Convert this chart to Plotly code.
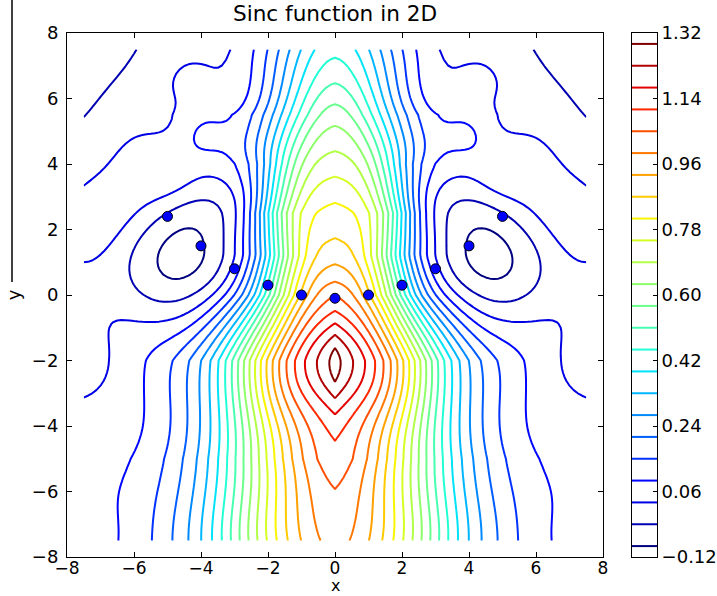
import numpy as np
import plotly.graph_objects as go

# ======================= data =======================
# sample points drawn as blue dots
pts_x = [-5, -4, -3, -2, -1, 0, 1, 2, 3, 4, 5]
pts_y = [2.4, 1.5, 0.8, 0.3, 0.0, -0.1, 0.0, 0.3, 0.8, 1.5, 2.4]

# contour levels and colour-bar labels
level_start, level_end, level_step = -0.09, 1.29, 0.06
cb_range = [-0.12, 1.32]
cb_ticks = [-0.12, 0.06, 0.24, 0.42, 0.60, 0.78, 0.96, 1.14, 1.32]
cb_text = ["\u22120.12", "0.06", "0.24", "0.42", "0.60", "0.78", "0.96", "1.14", "1.32"]
axis_ticks = [-8, -6, -4, -2, 0, 2, 4, 6, 8]

# surface values (left half; the surface is mirror symmetric)
centre_y = [7.5, 7.18, 6.46, 5.82, 5.19, 4.38, 3.6, 2.85, 1.68, 0.97, 0.35, -0.2, -0.46,
            -0.76, -1.32, -1.68, -2.05, -2.54, -3.10, -3.66, -4.48, -5.9, -7.5]
centre_z = [0.43, 0.45, 0.51, 0.57, 0.63, 0.69, 0.75, 0.81, 0.87, 0.93, 0.99, 1.05, 1.11,
            1.17, 1.23, 1.29, 1.315, 1.29, 1.23, 1.17, 1.11, 1.05, 1.01]
top_x = [-0.64, -1.01, -1.35, -1.66, -2.03, -2.43, -3.07, -5.91, -7.5]
top_z = [0.39, 0.33, 0.27, 0.21, 0.15, 0.09, 0.03, -0.03, -0.07]
bottom_x = [-0.45, -1.0, -1.42, -1.76, -2.03, -2.3, -2.57, -2.88, -3.11, -3.38, -3.65,
            -3.99, -4.39, -4.86, -5.47, -6.39, -7.5]
bottom_z = [0.99, 0.93, 0.87, 0.81, 0.75, 0.69, 0.63, 0.57, 0.51, 0.45, 0.39,
            0.33, 0.27, 0.21, 0.15, 0.09, 0.08]
peak_x = [-0.28, -0.55, -0.85, -1.18, -1.48]
peak_y = [-2.1, -2.1, -2.2, -2.3, -2.5]
peak_z = [1.29, 1.23, 1.17, 1.11, 1.05]
line_a = [(-7.5, 5.4), (-6.7, 6.45)]                                     # -0.03
line_b = [(-7.5, 3.31), (-6.7, 4.1), (-5.86, 4.94), (-4.87, 6.36), (-3.77, 7.02)]  # 0.03
band = [(-7.5, 2.2), (-6.2, 3.5)]                                        # ~0.065
line_c = [(-2.73, 5.75), (-3.37, 5.39), (-4.12, 4.94), (-3.97, 4.53), (-3.17, 4.02),
          (-2.73, 3.21), (-2.73, 2.39), (-2.8, 1.2), (-3.3, 0.1), (-3.93, -0.56),
          (-4.83, -1.27), (-5.52, -1.78), (-5.72, -2.6)]                  # 0.09
line_d = [(-7.5, 1.02), (-6.96, 1.17), (-5.66, 2.49), (-4.37, 3.36), (-3.37, 3.51),
          (-2.97, 3.0), (-3.02, 1.78), (-3.02, 0.81), (-3.6, 0.0), (-4.17, -0.46),
          (-5.16, -0.76), (-6.66, -0.71), (-6.96, -1.07), (-7.5, -3.1)]   # 0.03
ring_2 = [(-6.11, 1.07), (-5.86, 1.88), (-5.16, 2.54), (-4.37, 2.85), (-3.67, 2.80),
          (-3.29, 2.19), (-3.27, 1.48), (-3.47, 0.76), (-3.97, 0.15), (-4.77, -0.20),
          (-5.56, -0.15), (-6.01, 0.36)]                                  # -0.03
ring_1 = [(-5.26, 1.17), (-5.07, 1.68), (-4.57, 1.93), (-4.07, 1.93), (-3.97, 1.48),
          (-4.07, 0.97), (-4.47, 0.56), (-4.96, 0.56), (-5.21, 0.81)]     # -0.09
valley = [(-6.6, 0.2), (-7.3, -1.5)]                                     # ~0.0
low_pt = [(-4.6, 1.25)]                                                  # -0.115
line_f = [(-4.93, -2.6)]                                                 # 0.15
line_g = [(-4.43, -2.6)]                                                 # 0.21
dots_val = [(-1.0, 0.0, 0.90), (-2.0, 0.3, 0.45)]

# smooth base surface: ridge rows, peak, floor, side minima, side bumps
ridge_y = [-7.5, -5.0, -2.0, 0.0, 1.2, 2.5, 4.0, 5.5, 7.5]
ridge_c = [0.925, 1.005, 1.0, 0.98, 0.907, 0.83, 0.72, 0.60, 0.42]
ridge_w = [3.5, 3.45, 3.3, 2.27, 2.05, 2.21, 2.12, 2.25, 1.95]
ridge_p = [2.0, 2.1, 2.4, 2.03, 2.5, 3.3, 2.85, 2.0, 2.0]
ridge_cusp = 0.03
peak = [0.30, -2.05, 1.9, 1.5, 1.9]
floor = [0.085, -7.5, 4.0]
lobe = [-0.118, 4.6, 1.25, 1.3, 1.45, 0.3]
bumps_x = [7.3, 5.0, 4.0, 4.3, 8.5]
bumps_y = [2.3, 3.8, 4.9, 6.6, 8.0]
bumps_s = [1.25, 0.9, 0.8, 1.2, 2.8]
bumps_a = [0.07, 0.07, 0.08, 0.04, -0.09]

grid = np.linspace(-7.5, 7.5, 121)


# ======================= surface =======================
def base_surface(x, y):
    ax = np.abs(x)
    c = np.interp(y, ridge_y, ridge_c)
    w = np.interp(y, ridge_y, ridge_w)
    p = np.interp(y, ridge_y, ridge_p)
    z = c * np.exp(-(ax / w) ** p - ridge_cusp * ax)
    z = z + floor[0] * np.exp(-((y - floor[1]) / floor[2]) ** 2)
    sy = np.where(y > peak[1], peak[3], peak[4])
    z = z + peak[0] * np.exp(-ax / peak[2]) * np.exp(-((y - peak[1]) / sy) ** 2)
    u = ax - lobe[1] + lobe[5] * (y - lobe[2])
    z = z + lobe[0] * np.exp(-(u / lobe[3]) ** 2 - ((y - lobe[2]) / lobe[4]) ** 2)
    for bx, by, bs, ba in zip(bumps_x, bumps_y, bumps_s, bumps_a):
        z = z + ba * np.exp(-((ax - bx) ** 2 + (y - by) ** 2) / bs ** 2)
    return z


ox, oy, oz = [], [], []


def add(xs, ys, zs):
    for a, b, c in zip(xs, ys, zs):
        ox.append(a); oy.append(b); oz.append(c)
        if a < -1e-9:
            ox.append(-a); oy.append(b); oz.append(c)


add([0.0] * len(centre_y), centre_y, centre_z)
add(top_x, [7.5] * len(top_x), top_z)
add(bottom_x, [-7.5] * len(bottom_x), bottom_z)
add(peak_x, peak_y, peak_z)
for pts, lev in [(line_a, -0.03), (line_b, 0.03), (band, 0.065), (line_c, 0.09),
                 (line_d, 0.03), (ring_2, -0.03), (ring_1, -0.09), (valley, 0.0),
                 (low_pt, -0.115), (line_f, 0.15), (line_g, 0.21)]:
    add([p[0] for p in pts], [p[1] for p in pts], [lev] * len(pts))
add([d[0] for d in dots_val], [d[1] for d in dots_val], [d[2] for d in dots_val])

ox, oy, oz = np.array(ox), np.array(oy), np.array(oz)
resid = oz - base_surface(ox, oy)
ell, lam = 1.0, 0.1
K = np.exp(-((ox[:, None] - ox[None, :]) ** 2 + (oy[:, None] - oy[None, :]) ** 2) / (2 * ell ** 2))
alpha = np.linalg.solve(K + lam * np.eye(len(ox)), resid)

GX, GY = np.meshgrid(grid, grid)
Z = base_surface(GX, GY)
flat = np.exp(-((GX.ravel()[:, None] - ox[None, :]) ** 2 + (GY.ravel()[:, None] - oy[None, :]) ** 2)
              / (2 * ell ** 2)) @ alpha
Z = Z + flat.reshape(GX.shape)


# matplotlib "jet"
def jet(t):
    r = np.interp(t, [0, 0.35, 0.66, 0.89, 1], [0, 0, 1, 1, 0.5])
    g = np.interp(t, [0, 0.125, 0.375, 0.64, 0.91, 1], [0, 0, 1, 1, 0, 0])
    b = np.interp(t, [0, 0.11, 0.34, 0.65, 1], [0.5, 1, 1, 0, 0])
    return "rgb(%d,%d,%d)" % (round(r * 255), round(g * 255), round(b * 255))


knots = [0, 0.11, 0.125, 0.34, 0.35, 0.375, 0.64, 0.65, 0.66, 0.89, 0.91, 1]
jet_scale = [[k, jet(k)] for k in knots]

fig = go.Figure()
fig.add_trace(go.Contour(
    x=grid, y=grid, z=Z,
    contours=dict(start=level_start, end=level_end, size=level_step, coloring="lines"),
    line=dict(width=2, smoothing=0),
    colorscale=jet_scale, showscale=False, hoverinfo="skip",
    xaxis="x", yaxis="y",
))
fig.add_trace(go.Scatter(
    x=pts_x, y=pts_y, mode="markers",
    marker=dict(size=10, color="rgb(0,0,255)", line=dict(color="black", width=1)),
    hoverinfo="skip", xaxis="x", yaxis="y",
))

# colour bar drawn on its own axis pair
levels = np.arange(level_start, level_end + level_step / 2, level_step)
for lev in levels:
    t = (lev - level_start) / (level_end - level_start)
    fig.add_trace(go.Scatter(
        x=[0, 1], y=[lev, lev], mode="lines", line=dict(color=jet(t), width=2),
        hoverinfo="skip", xaxis="x2", yaxis="y2",
    ))

PW = 717 - 67 - 60
PH = 596 - 33 - 39
tick_font = dict(size=18, color="black", family="DejaVu Sans")
axis_common = dict(
    range=[-8, 8], tickvals=axis_ticks, ticks="inside", ticklen=5, tickcolor="black",
    mirror="ticks", showline=True, linecolor="black", linewidth=1,
    showgrid=False, zeroline=False, automargin=False,
)
fig.update_layout(
    width=717, height=596,
    margin=dict(l=67, r=60, t=33, b=39, autoexpand=False),
    paper_bgcolor="white", plot_bgcolor="white",
    font=dict(family="DejaVu Sans", size=18, color="black"),
    showlegend=False,
    title=dict(text="Sinc function in 2D", x=335 / 717, xanchor="center",
               y=1 - 13 / 596, yanchor="middle", automargin=False,
               font=dict(size=21.6, family="DejaVu Sans", color="black")),
    xaxis=dict(domain=[0, 536 / PW], anchor="y", ticklabelstandoff=-4,
               tickfont=dict(size=17, color="black", family="DejaVu Sans"), **axis_common),
    yaxis=dict(domain=[0, 1], anchor="x", ticklabelstandoff=4, tickfont=tick_font,
               title=dict(text="y", standoff=6, font=dict(size=18)), **axis_common),
    xaxis2=dict(domain=[(632 - 67) / PW, 1], anchor="y2", range=[0, 1],
                showticklabels=False, ticks="", showgrid=False, zeroline=False,
                showline=True, linecolor="black", linewidth=1, mirror=True, automargin=False),
    yaxis2=dict(domain=[0, 1], anchor="x2", range=cb_range, side="right",
                tickvals=cb_ticks, ticktext=cb_text, ticks="inside", ticklen=4,
                tickcolor="black", tickfont=tick_font, showgrid=False, zeroline=False,
                showline=True, linecolor="black", linewidth=1, mirror=True, automargin=False),
    annotations=[dict(text="x", xref="paper", yref="paper",
                      x=(335 - 67) / PW, y=(557 - 596) / PH,
                      xanchor="center", yanchor="bottom", showarrow=False, borderpad=0,
                      font=dict(size=16, family="DejaVu Sans", color="black"))],
    shapes=[dict(type="line", xref="paper", yref="paper",
                 x0=(12 - 67) / PW, x1=(12 - 67) / PW,
                 y0=557 / PH, y1=(557 - 282) / PH,
                 line=dict(color="black", width=1.5))],
)

fig.write_html("out.html")
